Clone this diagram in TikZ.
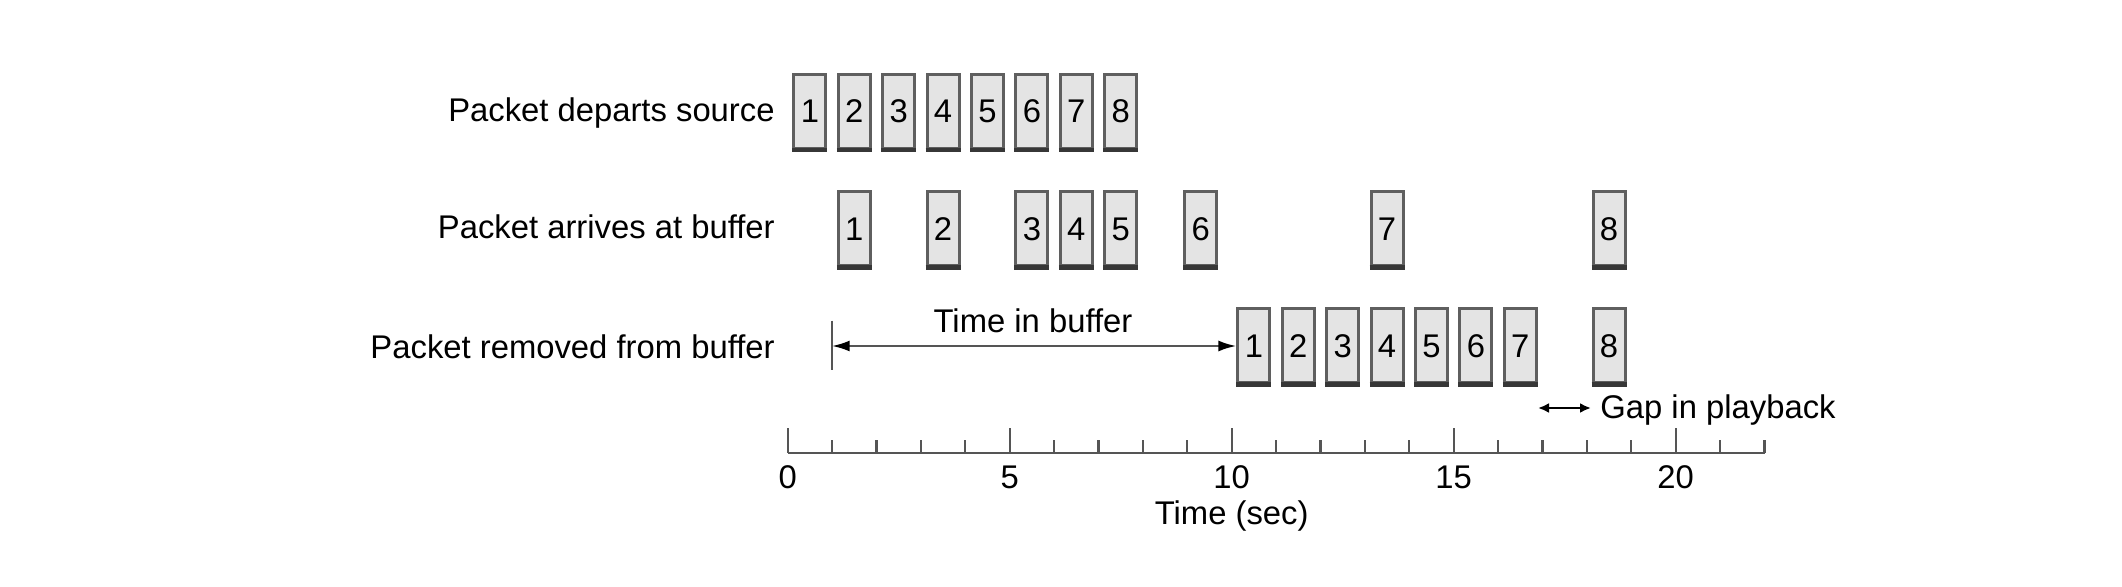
\documentclass[tikz,border=0pt]{standalone}
\usepackage{fontspec}
\setmainfont{Liberation Sans}
\usetikzlibrary{arrows.meta}
\definecolor{boxfill}{RGB}{228,228,228}
\definecolor{boxedge}{RGB}{95,95,95}
\definecolor{boxbot}{RGB}{55,55,55}
\definecolor{axisgray}{RGB}{85,85,85}
\tikzset{
  pkt/.style={draw=boxedge, fill=boxfill, line width=1.5pt, minimum width=16pt,
    minimum height=37pt, inner sep=0pt, font=\fontsize{16.4}{19}\selectfont},
  pktbottom/.style={draw=boxbot, line width=2.4pt},
  lbl/.style={font=\fontsize{16.4}{19}\selectfont, inner sep=0pt},
  axisline/.style={draw=axisgray, line width=1.1pt},
  tickline/.style={draw=axisgray, line width=1.1pt},
  bigarrow/.style={draw=axisgray, line width=1.2pt, {Latex[length=9pt,width=5.5pt,black]}-{Latex[length=9pt,width=5.5pt,black]}},
  smallarrow/.style={draw=black, line width=1.3pt, {Latex[length=5.5pt,width=5pt]}-{Latex[length=5.5pt,width=5pt]}},
}
\begin{document}
\begin{tikzpicture}[x=0.5pt, y=-0.5pt]
\useasboundingbox (0,0) rectangle (2122,587);

% row labels
\node[lbl, anchor=base east] (lab1) at (775,121.7) {Packet departs source};
\node[lbl, anchor=base east] (lab2) at (775,238.4) {Packet arrives at buffer};
\node[lbl, anchor=base east] (lab3) at (775,358.4) {Packet removed from buffer};

% row 1: departs source
\foreach \k in {1,...,8} {
  \node[pkt] (d\k) at ({787.7+44.4*(\k-0.5)},111.5) {\k};
  \draw[pktbottom] (d\k.south west) -- (d\k.south east);
}
% row 2: arrives at buffer
\foreach \k/\t in {1/1.5, 2/3.5, 3/5.5, 4/6.5, 5/7.5, 6/9.3, 7/13.5, 8/18.5} {
  \node[pkt] (a\k) at ({787.7+44.4*\t},229) {\k};
  \draw[pktbottom] (a\k.south west) -- (a\k.south east);
}
% row 3: removed from buffer
\foreach \k/\t in {1/10.5, 2/11.5, 3/12.5, 4/13.5, 5/14.5, 6/15.5, 7/16.5, 8/18.5} {
  \node[pkt] (r\k) at ({787.7+44.4*\t},346) {\k};
  \draw[pktbottom] (r\k.south west) -- (r\k.south east);
}

% time in buffer
\coordinate (barTop) at (831.7,320.7);
\coordinate (barBot) at (831.7,370);
\coordinate (barMid) at (831.7,346);
\draw[draw=axisgray, line width=1.1pt] (barTop) -- (barBot);
\draw[bigarrow] (barMid) -- (r1.west);
\node[lbl, anchor=base] (tib) at (1033,333) {Time in buffer};

% gap in playback
\coordinate (gapL) at (1538,408);
\coordinate (gapR) at (1591,408);
\draw[smallarrow] (gapL) -- (gapR);
\node[lbl, anchor=base west] (gap) at (1600,419) {Gap in playback};

% axis
\coordinate (ax0) at (787.7,452.7);
\coordinate (ax22) at ({787.7+44.4*22},452.7);
\draw[axisline] (ax0) -- (ax22);
\foreach \t in {0,...,22} {
  \pgfmathtruncatemacro{\m}{mod(\t,5)}
  \ifnum\m=0
    \draw[tickline] ({787.7+44.4*\t},452.7) -- ++(0,-25);
  \else
    \draw[tickline] ({787.7+44.4*\t},452.7) -- ++(0,-13);
  \fi
}
\foreach \t in {0,5,10,15,20} {
  \node[lbl, anchor=base] (n\t) at ({787.7+44.4*\t},488.4) {\t};
}
\node[lbl, anchor=base] (tsec) at (1231.7,525) {Time (sec)};
\end{tikzpicture}
\end{document}
